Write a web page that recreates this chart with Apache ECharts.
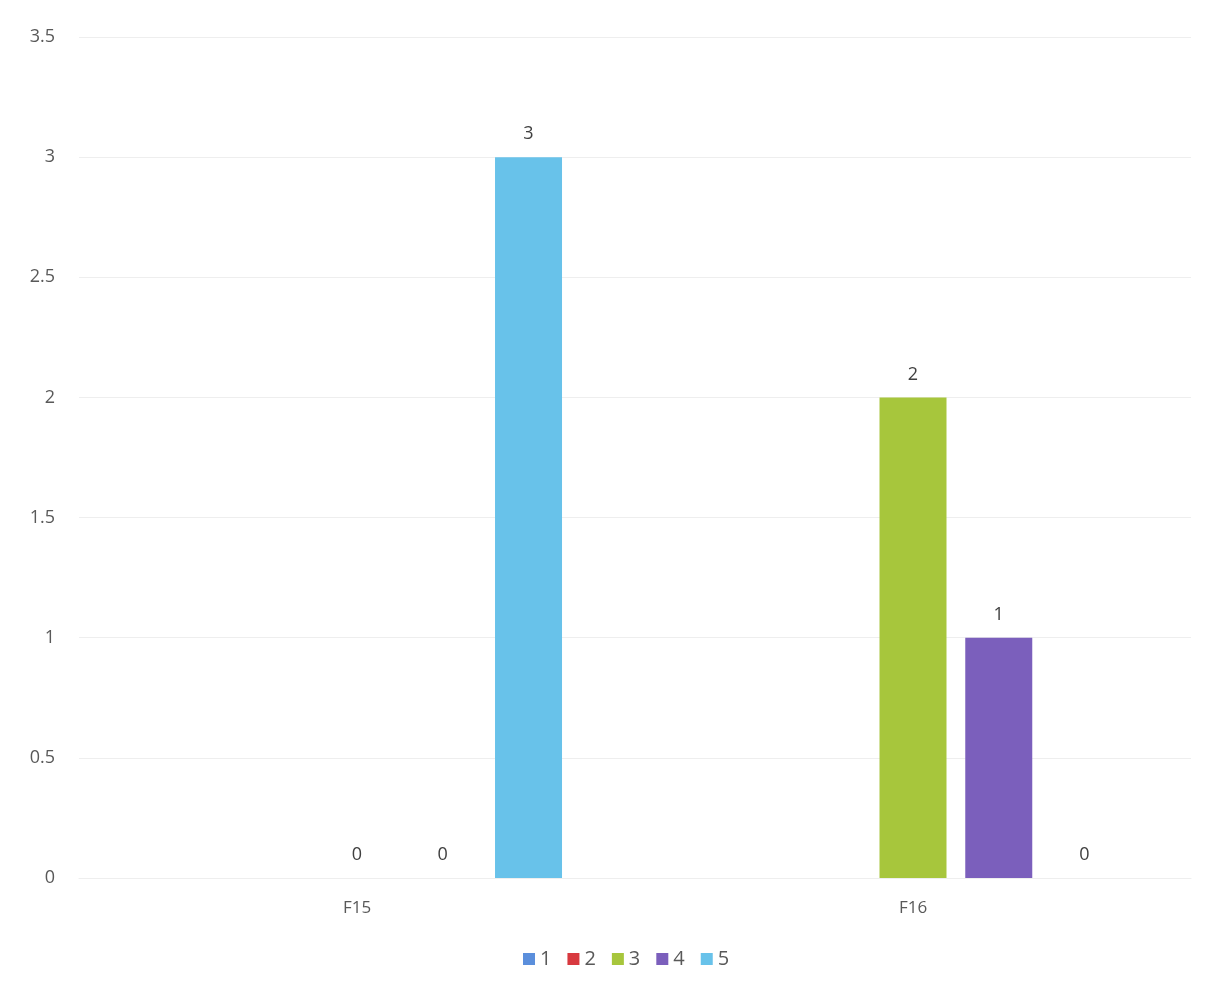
<!DOCTYPE html>
<html>
<head>
<meta charset="utf-8">
<script src="https://cdn.jsdelivr.net/npm/echarts@6/dist/echarts.min.js"></script>
<style>
  html, body { margin: 0; padding: 0; background: #fff; }
  #chart { width: 1219px; height: 991px; }
</style>
</head>
<body>
<div id="chart"></div>
<script>
const categories = ["F15", "F16"]
const seriesNames = ["1", "2", "3", "4", "5"]
// null = no bar / no label in that category
const values1 = [null, null]
const values2 = [null, null]
const values3 = [0, 2]
const values4 = [0, 1]
const values5 = [3, 0]
const colors = ["#5b8fdc", "#d8393f", "#a7c63c", "#7b5fbc", "#68c2ea"]

const allValues = [values1, values2, values3, values4, values5]

const chart = echarts.init(document.getElementById("chart"))

const textColor = "#595959"
const font = "'Open Sans', 'Liberation Sans', sans-serif"

chart.setOption({
  animation: false,
  color: colors,
  grid: { left: 79, right: 28, top: 37, bottom: 113, containLabel: false },
  legend: {
    bottom: 17,
    left: 518,
    itemWidth: 12,
    itemHeight: 12,
    itemGap: 16,
    icon: "rect",
    textStyle: { color: textColor, fontSize: 20, fontFamily: font },
    data: seriesNames,
  },
  xAxis: {
    type: "category",
    data: categories,
    axisLine: { show: true, lineStyle: { color: "#eeeeee" } },
    axisTick: { show: false },
    axisLabel: { color: textColor, fontSize: 17, fontFamily: font, margin: 22 },
  },
  yAxis: {
    type: "value",
    min: 0,
    max: 3.5,
    interval: 0.5,
    axisLine: { show: false },
    axisTick: { show: false },
    splitLine: { lineStyle: { color: "#eeeeee" } },
    axisLabel: { color: textColor, fontSize: 18, fontFamily: font, margin: 24 },
  },
  series: seriesNames.map((name, i) => ({
    name,
    type: "bar",
    data: allValues[i],
    barWidth: 67,
    barGap: "28%",
    label: {
      show: true,
      position: "top",
      distance: 14,
      color: "#404040",
      fontSize: 18,
      fontFamily: font,
    },
  })),
})
</script>
</body>
</html>
